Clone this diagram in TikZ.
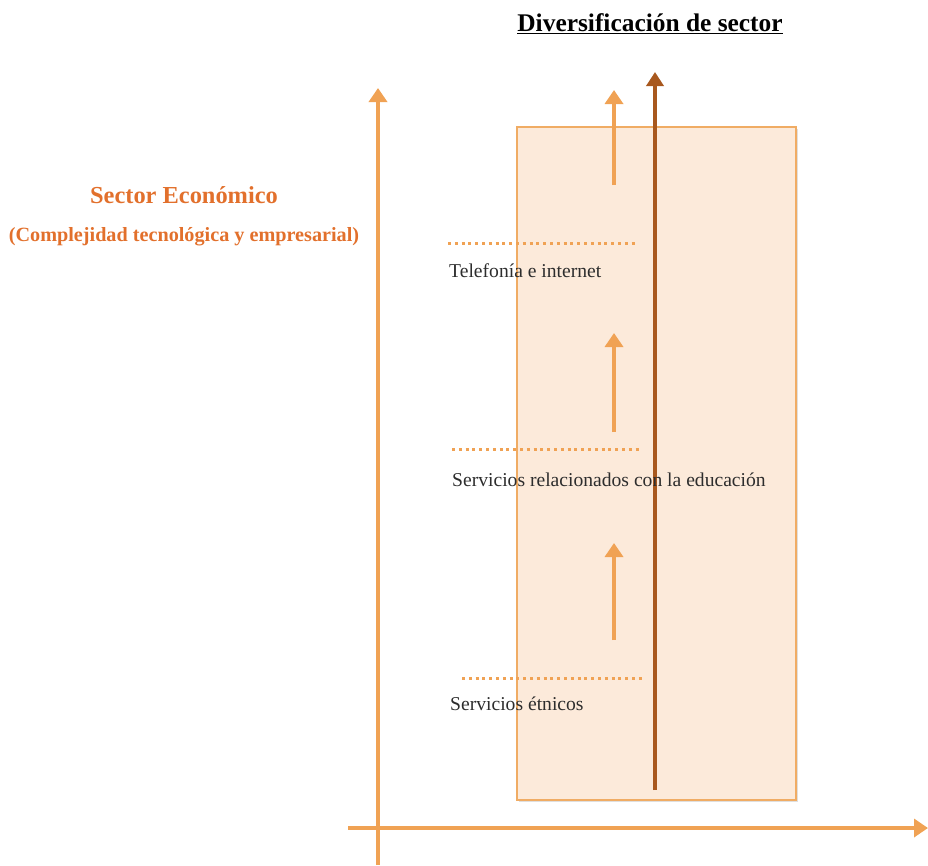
\documentclass[tikz,border=0pt]{standalone}
\usepackage{fontspec}
\setmainfont{Liberation Serif}
\usetikzlibrary{arrows.meta,shadows}
\definecolor{axisor}{RGB}{240,162,84}
\definecolor{boxfill}{RGB}{252,234,218}
\definecolor{boxline}{RGB}{240,172,100}
\definecolor{brownar}{RGB}{168,88,30}
\definecolor{titleor}{RGB}{226,112,44}
\definecolor{txtgray}{RGB}{45,45,45}
\tikzset{
  axis/.style={draw=axisor,line width=4pt,-{Triangle[width=18pt,length=14pt]}},
  smallarrow/.style={draw=axisor,line width=4pt,-{Triangle[width=18pt,length=14pt]}},
  mainarrow/.style={draw=brownar,line width=3.5pt,-{Triangle[width=17pt,length=14pt]}},
  dotline/.style={draw=axisor,line width=3pt,dash pattern=on 3pt off 3.8pt},
  lbl/.style={anchor=base west,inner sep=0pt,text=txtgray,font=\fontsize{19.6}{22}\selectfont},
  sidetitle/.style={inner sep=0pt,text=titleor,font=\bfseries\fontsize{24.4}{28}\selectfont},
}
\begin{document}
\begin{tikzpicture}[x=1pt,y=-1pt]
\useasboundingbox (0,0) rectangle (928,865);
% box
\node[draw=boxline,fill=boxfill,line width=1.5pt,minimum width=279pt,minimum height=673pt,inner sep=0pt,
  drop shadow={shadow xshift=1.5pt,shadow yshift=-2pt,opacity=0.25}] (box) at (656.5,463.5) {};
% axes
\coordinate (ybot) at (378,865);
\coordinate (ytop) at (378,88);
\coordinate (xleft) at (348,828);
\coordinate (xright) at (928,828);
\draw[axis] (ybot) -- (ytop);
\draw[axis] (xleft) -- (xright);
% small arrows
\coordinate (a1s) at (614,185); \coordinate (a1e) at (614,90);
\coordinate (a2s) at (614,432); \coordinate (a2e) at (614,333);
\coordinate (a3s) at (614,640); \coordinate (a3e) at (614,543);
\draw[smallarrow] (a1s) -- (a1e);
\draw[smallarrow] (a2s) -- (a2e);
\draw[smallarrow] (a3s) -- (a3e);
% dotted lines
\coordinate (d1s) at (448,243); \coordinate (d1e) at (638,243);
\coordinate (d2s) at (452,449); \coordinate (d2e) at (642,449);
\coordinate (d3s) at (462,678); \coordinate (d3e) at (643,678);
\draw[dotline] (d1s) -- (d1e);
\draw[dotline] (d2s) -- (d2e);
\draw[dotline] (d3s) -- (d3e);
% main arrow
\coordinate (ms) at (655,790);
\coordinate (me) at (655,72);
\draw[mainarrow] (ms) -- (me);
% labels
\node[lbl] (l1) at (449,277) {Telefonía e internet};
\node[lbl] (l2) at (452,486) {Servicios relacionados con la educación};
\node[lbl] (l3) at (450,710) {Servicios étnicos};
\node[sidetitle] (t1) at (184,195) {Sector Económico};
\node[sidetitle,font=\bfseries\fontsize{20.2}{24}\selectfont] (t2) at (184,237) {(Complejidad tecnológica y empresarial)};
\node[inner sep=0pt,font=\bfseries\fontsize{25.4}{28}\selectfont] (top) at (650,24) {\underline{Diversificación de sector}};
\end{tikzpicture}
\end{document}
